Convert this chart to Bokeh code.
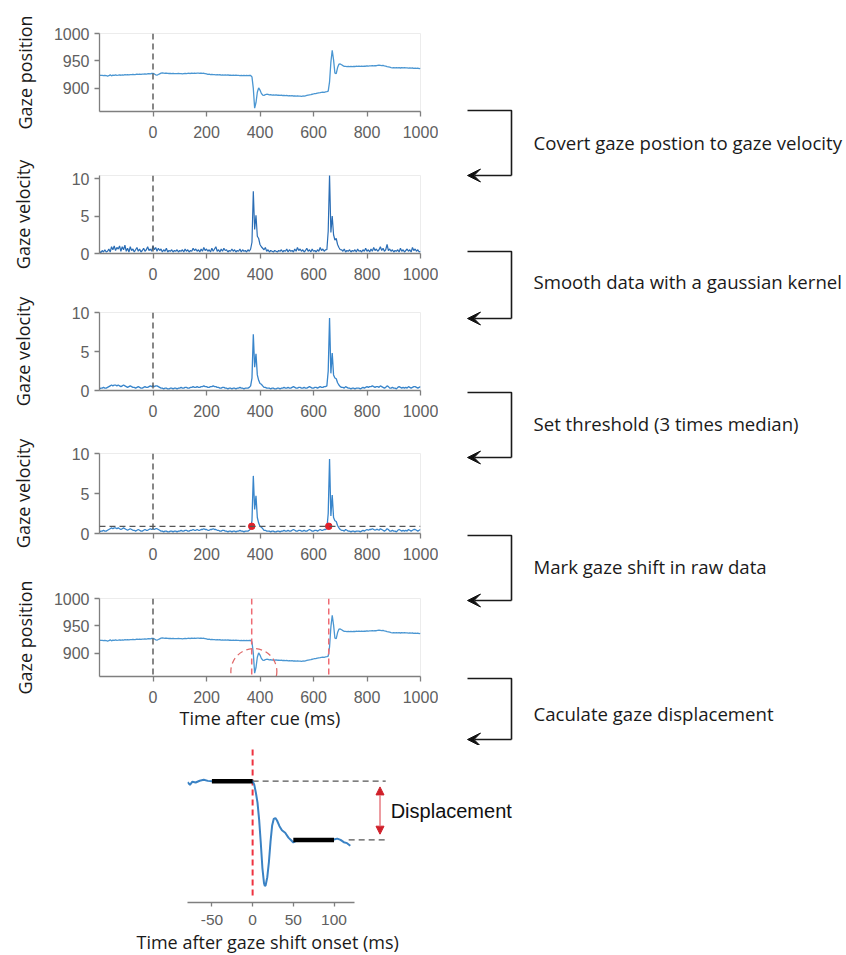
from bokeh.plotting import figure
from bokeh.models import Range1d, FixedTicker, Span, Label, Arrow, VeeHead, NormalHead, Title
from bokeh.layouts import column, row
from bokeh.embed import file_html
from bokeh.resources import INLINE
from bokeh.core.properties import value

# ---------------- data ----------------
time_ms = list(range(-200, 1001, 5))

gaze_position = [
    924.0, 923.6, 923.8, 923.2, 923.9, 923.5, 922.4, 923.1, 924.6, 923.0, 924.2, 923.7, 924.5, 923.8, 924.1, 924.6, 924.0, 924.8, 924.4, 925.0,
    924.6, 925.1, 924.8, 925.3, 925.0, 925.6, 925.2, 925.4, 925.9, 925.5, 926.0, 925.6, 926.2, 926.0, 926.5, 926.2, 926.7, 927.0, 926.6, 927.2,
    927.5, 926.4, 924.8, 924.2, 925.3, 926.6, 927.8, 928.4, 928.0, 927.6, 927.9, 927.4, 927.2, 927.5, 927.0, 927.3, 926.8, 927.1, 926.9, 927.2,
    926.8, 927.0, 926.6, 927.1, 927.4, 926.9, 927.3, 927.6, 927.2, 927.8, 927.5, 927.9, 927.4, 927.7, 928.0, 927.6, 927.9, 927.3, 927.6, 927.0,
    926.4, 925.6, 925.9, 925.2, 925.5, 925.0, 925.3, 924.8, 925.1, 924.6, 924.9, 924.4, 924.7, 924.3, 924.6, 924.2, 924.5, 924.0, 924.3, 923.9,
    924.2, 923.8, 924.1, 923.6, 923.9, 923.5, 923.8, 923.4, 923.7, 923.3, 923.6, 923.4, 923.7, 923.5,
    921.0, 900.0, 864.0, 874.0, 893.0, 901.0, 897.0, 891.0, 888.0, 887.5, 888.6, 889.4, 889.0, 888.2, 888.6, 888.0,
    888.3, 887.8, 888.2, 887.6, 887.9, 887.3, 887.7, 887.1, 887.5, 886.9, 887.2, 886.6, 887.0, 886.4, 886.8, 886.2, 886.6, 886.0, 886.4, 885.8,
    886.1, 885.6, 886.2, 886.0, 886.6, 887.2, 887.8, 888.3, 888.8, 889.4, 889.9, 890.5, 890.8, 891.4, 891.9, 892.3, 892.8, 893.2, 893.0, 893.6,
    894.0, 895.0, 912.0, 948.0, 969.5, 952.0, 928.0, 927.0, 938.0, 944.0, 944.5,
    943.0, 941.5, 940.3, 940.0, 939.6, 940.1, 939.7, 940.2, 939.8, 940.3, 939.9, 940.4, 940.0, 940.5, 940.1, 940.6, 940.2, 940.8, 940.4, 941.0,
    940.6, 941.2, 940.9, 941.5, 941.1, 941.7, 941.3, 941.9, 942.4, 942.0, 941.6, 941.9, 941.2, 940.6, 939.8, 939.2, 938.6, 938.0, 937.6, 937.9,
    937.4, 937.8, 937.3, 937.7, 937.2, 937.8, 937.4, 937.9, 937.3, 937.6, 937.0, 937.4, 936.8, 937.2, 936.6, 937.0, 936.4, 936.8, 936.2, 936.5,
]

gaze_velocity_raw = [
    0.3, 0.1, 0.4, 0.2, 0.5, 0.2, 0.3, 0.6, 0.2, 0.9, 0.5, 1.0, 0.4, 0.8, 0.6, 1.0, 0.3, 0.9, 0.5, 1.1,
    0.3, 0.7, 0.2, 0.9, 0.4, 0.6, 0.2, 0.5, 0.8, 0.3, 0.6, 0.2, 0.4, 0.7, 0.3, 0.5, 0.9, 0.4, 0.6, 0.3,
    1.0, 0.5, 0.8, 0.3, 0.7, 0.4, 0.6, 0.2, 0.5, 0.3, 0.7, 0.2, 0.4, 0.3, 0.5, 0.2, 0.4, 0.3, 0.5, 0.2,
    0.4, 0.3, 0.5, 0.2, 0.6, 0.3, 0.5, 0.2, 0.4, 0.3, 0.7, 0.4, 0.6, 0.3, 0.5, 0.2, 0.6, 0.3, 0.8, 0.4,
    0.6, 0.3, 0.5, 0.2, 0.7, 0.3, 0.6, 0.9, 0.3, 0.5, 0.2, 0.6, 0.3, 0.7, 0.4, 0.5, 0.2, 0.4, 0.3, 0.6,
    0.3, 0.5, 0.2, 0.4, 0.3, 0.6, 0.2, 0.5, 0.3, 0.4, 0.2, 0.5, 0.3, 0.6,
    1.5, 8.3, 3.2, 5.1, 2.3, 2.0, 1.2, 0.9, 0.7, 0.5, 0.8, 0.3, 0.5, 0.2, 0.4, 0.3,
    0.2, 0.4, 0.3, 0.2, 0.4, 0.3, 0.5, 0.2, 0.4, 0.3, 0.6, 0.2, 0.5, 0.3, 0.4, 0.2, 0.6, 0.3, 0.8, 0.4,
    0.6, 0.3, 0.5, 0.2, 0.4, 0.7, 0.3, 0.5, 0.2, 0.6, 0.3, 0.4, 0.2, 0.5, 0.3, 0.8, 0.4, 0.6, 0.3, 0.5,
    0.5, 3.0, 10.5, 2.8, 5.0, 2.5, 1.8, 2.0, 1.2, 0.8, 0.5,
    0.5, 0.3, 0.6, 0.2, 0.4, 0.3, 0.5, 0.2, 0.4, 0.3, 0.5, 0.2, 0.6, 0.3, 0.4, 0.2, 0.5, 0.3, 0.7, 0.3,
    0.5, 0.2, 0.6, 0.3, 0.8, 0.4, 0.6, 0.3, 0.5, 0.9, 0.4, 0.7, 0.3, 0.5, 1.2, 0.4, 0.6, 0.3, 0.5, 0.2,
    0.4, 0.3, 0.5, 0.2, 0.7, 0.3, 0.5, 0.2, 0.4, 0.6, 0.3, 0.5, 0.2, 0.8, 0.4, 0.6, 0.3, 0.5, 0.2, 0.3,
]

gaze_velocity_smooth = [
    0.2, 0.3, 0.3, 0.4, 0.3, 0.3, 0.4, 0.5, 0.6, 0.7, 0.6, 0.7, 0.7, 0.6, 0.7, 0.6, 0.5, 0.6, 0.7, 0.6,
    0.5, 0.4, 0.5, 0.6, 0.5, 0.4, 0.4, 0.3, 0.4, 0.5, 0.4, 0.3, 0.3, 0.4, 0.5, 0.4, 0.4, 0.5, 0.6, 0.5,
    0.6, 0.5, 0.6, 0.6, 0.5, 0.4, 0.3, 0.3, 0.2, 0.3, 0.3, 0.2, 0.2, 0.3, 0.3, 0.2, 0.3, 0.3, 0.2, 0.3,
    0.3, 0.4, 0.3, 0.3, 0.4, 0.4, 0.3, 0.3, 0.4, 0.4, 0.5, 0.4, 0.4, 0.5, 0.4, 0.4, 0.5, 0.5, 0.6, 0.5,
    0.5, 0.4, 0.4, 0.5, 0.5, 0.6, 0.5, 0.5, 0.4, 0.4, 0.3, 0.3, 0.4, 0.4, 0.3, 0.3, 0.2, 0.3, 0.3, 0.2,
    0.3, 0.3, 0.2, 0.3, 0.3, 0.4, 0.3, 0.3, 0.2, 0.3, 0.3, 0.3, 0.4, 0.6,
    1.6, 7.2, 3.0, 4.7, 2.0, 1.3, 0.9, 0.8, 0.6, 0.4, 0.4, 0.3, 0.3, 0.3, 0.2, 0.3,
    0.3, 0.2, 0.2, 0.3, 0.3, 0.2, 0.3, 0.3, 0.4, 0.3, 0.3, 0.4, 0.3, 0.3, 0.4, 0.5, 0.4, 0.3, 0.3, 0.4,
    0.4, 0.3, 0.3, 0.4, 0.3, 0.3, 0.4, 0.5, 0.4, 0.3, 0.3, 0.4, 0.4, 0.3, 0.4, 0.5, 0.4, 0.4, 0.5, 0.5,
    0.6, 2.5, 9.3, 2.2, 4.8, 2.0, 1.6, 1.5, 1.0, 0.7, 0.5,
    0.4, 0.4, 0.3, 0.5, 0.4, 0.3, 0.3, 0.2, 0.3, 0.3, 0.2, 0.3, 0.3, 0.3, 0.2, 0.3, 0.4, 0.3, 0.4, 0.5,
    0.4, 0.5, 0.5, 0.6, 0.5, 0.4, 0.5, 0.5, 0.4, 0.6, 0.5, 0.4, 0.3, 0.4, 0.6, 0.5, 0.3, 0.3, 0.4, 0.3,
    0.3, 0.2, 0.4, 0.5, 0.4, 0.3, 0.4, 0.3, 0.4, 0.3, 0.5, 0.4, 0.3, 0.4, 0.5, 0.5, 0.4, 0.3, 0.4, 0.5,
]

cue_time = 0
threshold = 0.9
onset_times = [369, 657]
circle_center = (377, 867)

x_ticks = [0, 200, 400, 600, 800, 1000]
pos_ticks = [900, 950, 1000]
vel_ticks = [0, 5, 10]

# zoomed gaze shift (first saccade)
shift_time = [-80, -77, -74, -70, -65, -60, -55, -50, -40, -30, -20, -10, 0, 2, 4, 6, 8, 10, 12, 14, 15, 16,
              18, 20, 22, 24, 26, 28, 30, 33, 36, 40, 44, 47, 50, 55, 60, 70, 80, 90, 100, 104, 108, 112, 116, 120]
shift_position = [923.0, 921.4, 923.3, 922.8, 923.9, 924.5, 923.8, 923.6, 923.8, 923.4, 923.9, 923.6, 923.6,
                  921.5, 916.5, 910.5, 900.0, 886.0, 870.5, 861.0, 859.3, 859.8, 864.7, 874.0, 886.5, 896.5,
                  900.5, 901.0, 899.5, 896.0, 893.5, 892.0, 889.0, 887.5, 886.0, 887.5, 888.0, 887.4, 887.8,
                  887.3, 887.8, 888.4, 887.6, 886.2, 885.6, 884.0]
shift_ticks = [-50, 0, 50, 100]
pre_window = [-50, 0]
post_window = [50, 100]
pre_level = 923.6
post_level = 887.6
guide_end = 163.5
lower_guide_start = 118
displacement_x = 156.5

steps = ["Covert gaze postion to gaze velocity",
         "Smooth data with a gaussian kernel",
         "Set threshold (3 times median)",
         "Mark gaze shift in raw data",
         "Caculate gaze displacement"]
step_arrow_top = [110, 251, 392, 535, 678]
step_arrow_bottom = [175, 318, 457, 600, 739]
step_text_y = [142, 281, 423, 566, 713]

# ---------------- styling helpers ----------------
TICK_FONT = "Liberation Sans"
LABEL_FONT = "Open Sans"
AX = "#7f7f7f"


def style_axes(p, tick_size="16px"):
    for ax in list(p.xaxis) + list(p.yaxis):
        ax.axis_line_color = AX
        ax.axis_line_width = 1.3
        ax.major_tick_line_color = AX
        ax.major_tick_line_width = 1.3
        ax.major_tick_in = 0
        ax.major_tick_out = 5
        ax.minor_tick_line_color = None
        ax.major_label_text_font = TICK_FONT
        ax.major_label_text_font_size = tick_size
        ax.major_label_text_color = "#606060"
        ax.axis_label_text_font = LABEL_FONT
        ax.axis_label_text_font_size = "18px"
        ax.axis_label_text_font_style = "normal"
        ax.axis_label_text_color = "#1a1a1a"


def panel(h, top, bottom, yr, yticks, ylabel, label_standoff):
    p = figure(width=438, height=h, x_range=Range1d(-200, 1000), y_range=Range1d(*yr),
               output_backend="svg", toolbar_location=None,
               min_border_left=99, min_border_right=18, min_border_top=top, min_border_bottom=bottom)
    p.grid.visible = False
    p.outline_line_color = "#ececec"
    p.background_fill_color = "white"
    p.xaxis.ticker = FixedTicker(ticks=x_ticks)
    p.yaxis.ticker = FixedTicker(ticks=yticks)
    p.yaxis.axis_label = ylabel
    style_axes(p)
    p.xaxis.major_label_standoff = 9
    p.yaxis.major_label_standoff = 5
    p.yaxis.axis_label_standoff = label_standoff
    p.add_layout(Span(location=cue_time, dimension="height", line_color="#555555",
                      line_dash="6 4", line_width=1.4))
    return p


POS_COL = "#4a96d2"
RAW_COL = "#2a6db5"
SM_COL = "#3885cb"

p1 = panel(150, 33, 39, (858, 1000), pos_ticks, "Gaze position", 14)
p1.line(time_ms, gaze_position, line_color=POS_COL, line_width=1.3)

p2 = panel(141, 25, 38, (0, 10.4), vel_ticks, "Gaze velocity", 34)
p2.line(time_ms, gaze_velocity_raw, line_color=RAW_COL, line_width=1.2)

p3 = panel(137, 21, 38, (0, 10), vel_ticks, "Gaze velocity", 34)
p3.line(time_ms, gaze_velocity_smooth, line_color=SM_COL, line_width=1.3)

p4 = panel(144, 25, 39, (0, 10), vel_ticks, "Gaze velocity", 34)
p4.add_layout(Span(location=threshold, dimension="width", line_color="#555555",
                   line_dash="6 4", line_width=1.3))
p4.line(time_ms, gaze_velocity_smooth, line_color=SM_COL, line_width=1.3)
p4.scatter(onset_times, [threshold] * len(onset_times), size=6.5, color="#e3202b")

p5 = panel(173, 26, 69, (858, 1000), pos_ticks, "Gaze position", 14)
for t in onset_times:
    p5.add_layout(Span(location=t, dimension="height", line_color="#ee6b73",
                       line_dash="6 4", line_width=1.5))
p5.line(time_ms, gaze_position, line_color=POS_COL, line_width=1.3)
p5.scatter([circle_center[0]], [circle_center[1]], size=46, marker="circle", fill_color=None,
           line_color="#e06b6b", line_dash="6 4", line_width=1.3)
p5.xaxis.axis_label = "Time after cue (ms)"
p5.xaxis.axis_label_standoff = 0

# ---------------- right column: processing steps ----------------
ROW_H = 745
pr = figure(width=408, height=ROW_H, x_range=Range1d(438, 846), y_range=Range1d(ROW_H, 0),
            output_backend="svg", toolbar_location=None, min_border=0,
            x_axis_type=None, y_axis_type=None)
pr.outline_line_color = None
pr.grid.visible = False
ARROW_LEFT, ARROW_RIGHT, TEXT_X = 467, 511, 533
pr.multi_line([[ARROW_LEFT, ARROW_RIGHT, ARROW_RIGHT] for _ in steps],
              [[t, t, b] for t, b in zip(step_arrow_top, step_arrow_bottom)],
              line_color="#1a1a1a", line_width=1.6)
for b in step_arrow_bottom:
    pr.add_layout(Arrow(end=VeeHead(size=13, fill_color="#111111", line_color="#111111"),
                        x_start=ARROW_RIGHT, y_start=b, x_end=ARROW_LEFT, y_end=b,
                        line_color="#1a1a1a", line_width=1.6))
pr.text([TEXT_X] * len(steps), step_text_y, text=steps, text_font=value("Open Sans"),
        text_font_size="18.6px", text_baseline="middle", text_align="left", text_color="#1a1a1a")

# ---------------- bottom: zoomed gaze shift ----------------
px_per_ms = 0.814
frame_w = 420
left6 = 187
p6 = figure(width=846, height=208, x_range=Range1d(-80, -80 + frame_w / px_per_ms),
            y_range=Range1d(849.2, 945.5), output_backend="svg", toolbar_location=None,
            min_border_left=left6, min_border_right=846 - left6 - frame_w, min_border_top=0,
            min_border_bottom=51, y_axis_location=None)
p6.grid.visible = False
p6.outline_line_color = None
p6.xaxis.ticker = FixedTicker(ticks=shift_ticks)
p6.xaxis.major_label_overrides = {-50: "-50", 0: "0", 50: "50", 100: "100"}
p6.xaxis.bounds = (-80, 125)
style_axes(p6, tick_size="15.5px")
p6.xaxis.major_tick_out = 4
p6.xaxis.major_label_standoff = 8
p6.add_layout(Title(text="Time after gaze shift onset (ms)", align="left", offset=-51, standoff=0,
                    text_font=LABEL_FONT, text_font_size="18px", text_font_style="normal",
                    text_color="#1a1a1a"), "below")

p6.segment([0], [853.5], [0], [945.5], line_color="#ee3340", line_dash="6 4", line_width=2)
p6.segment([0, lower_guide_start], [pre_level, post_level], [guide_end, guide_end],
           [pre_level, post_level], line_color="#555555", line_dash="6 4", line_width=1.3)
p6.line(shift_time, shift_position, line_color="#3a82c4", line_width=2)
p6.segment([pre_window[0], post_window[0]], [pre_level, post_level],
           [pre_window[1], post_window[1]], [pre_level, post_level],
           line_color="black", line_width=4.5)
gap = 3.5
p6.add_layout(Arrow(start=NormalHead(size=8, fill_color="#d0202a", line_color="#d0202a"),
                    end=NormalHead(size=8, fill_color="#d0202a", line_color="#d0202a"),
                    x_start=displacement_x, y_start=pre_level - gap,
                    x_end=displacement_x, y_end=post_level + gap,
                    line_color="#e77b82", line_width=1.5))
p6.add_layout(Label(x=169.6, y=905.6, text="Displacement", text_font="Liberation Sans",
                    text_font_size="20px", text_baseline="middle", text_color="#111111"))

layout = column(row(column(p1, p2, p3, p4, p5), pr), p6)
open("out.html", "w").write(file_html(layout, INLINE))
